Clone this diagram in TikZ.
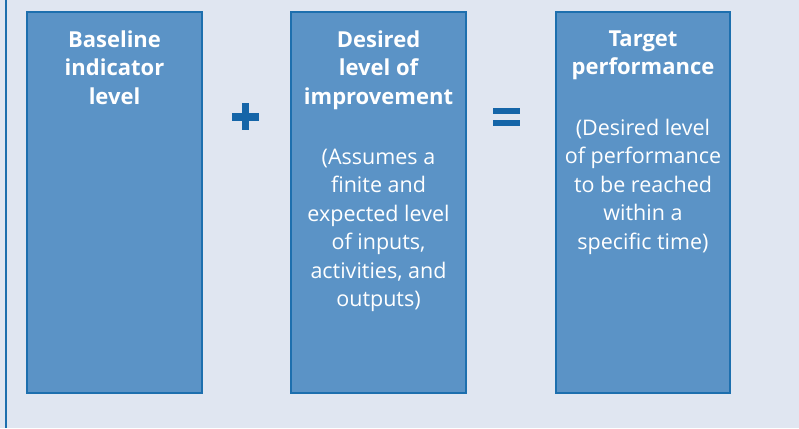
\documentclass[tikz,border=0pt]{standalone}
\usepackage{fontspec}
\setmainfont{Open Sans}
\definecolor{bg}{HTML}{E0E6F1}
\definecolor{boxfill}{HTML}{5B93C6}
\definecolor{boxline}{HTML}{1D6FAE}
\definecolor{opcol}{HTML}{1565A8}
\tikzset{
  panel/.style={fill=boxfill, draw=boxline, line width=1.3pt},
  title/.style={anchor=north, inner sep=0pt, align=center, text=white, font=\bfseries\fontsize{22}{28.5}\selectfont},
  body/.style={anchor=north, inner sep=0pt, align=center, text=white, font=\fontsize{21.5}{28.5}\selectfont},
  opbar/.style={fill=opcol, draw=none}
}
\begin{document}
\begin{tikzpicture}[x=1pt,y=-1pt]
\fill[bg] (0,0) rectangle (799,428);
\useasboundingbox (0,0) rectangle (799,428);
\draw[boxline, line width=1.5pt] (6,0) -- (6,428);
% boxes
\draw[panel] (27,12) rectangle (202,393);
\draw[panel] (291,12) rectangle (466,393);
\draw[panel] (556,12) rectangle (730,393);
% titles
\node[title] (t1) at (114.5,30.5) {Baseline\\indicator\\level};
\node[title] (t2) at (378.5,30.5) {Desired\\level of\\improvement};
\node[title] (t3) at (643,30.5) {Target\\performance};
% bodies
\node[body] (b2) at (378.5,148.5) {(Assumes a\\finite and\\expected level\\of inputs,\\activities, and\\outputs)};
\node[body] (b3) at (643,118.5) {(Desired level\\of performance\\to be reached\\within a\\specific time)};
% plus
\fill[opbar] (231.5,112.5) rectangle (259,120.5);
\fill[opbar] (241.5,103) rectangle (248.5,130);
% equals
\fill[opbar] (492.5,107.5) rectangle (520,114);
\fill[opbar] (492.5,119.5) rectangle (520,126);
\end{tikzpicture}
\end{document}
